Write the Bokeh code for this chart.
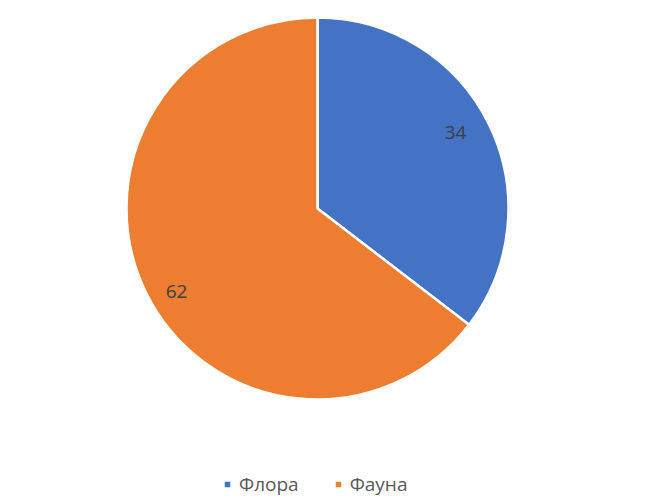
import math
from bokeh.plotting import figure
from bokeh.models import ColumnDataSource, Legend, LegendItem
from bokeh.core.properties import value
from bokeh.embed import file_html
from bokeh.resources import INLINE

categories = ["Флора", "Фауна"]
values = [34, 62]
colors = ["#4472C4", "#ED7D31"]

W, H = 652, 498
cx, cy, r = 317, 290, 191

total = sum(values)
starts, ends = [], []
a = math.pi / 2
for v in values:
    sweep = 2 * math.pi * v / total
    starts.append(a - sweep)
    ends.append(a)
    a -= sweep

src = ColumnDataSource(dict(cat=categories, val=values, color=colors,
                            start=starts, end=ends,
                            lx=[455, 176], ly=[366, 207],
                            lab=[str(v) for v in values]))

p = figure(width=W, height=H, x_range=(0, W), y_range=(0, H),
           output_backend="svg", toolbar_location=None, min_border=0,
           background_fill_color="white", border_fill_color="white")
p.axis.visible = False
p.grid.visible = False
p.outline_line_color = None

wr = p.wedge(x=cx, y=cy, radius=r, start_angle="start", end_angle="end",
             fill_color="color", line_color="white", line_width=2.5, source=src)
p.text(x="lx", y="ly", text="lab", source=src, text_align="center",
       text_baseline="middle", text_font=value("Open Sans"),
       text_font_size="19px", text_color="#404040")

legend = Legend(items=[LegendItem(label=categories[i], renderers=[wr], index=i)
                       for i in range(len(categories))],
                orientation="horizontal", location=(222, 1),
                label_text_font="Open Sans", label_text_font_size="19px",
                label_text_color="#595959", glyph_width=10, glyph_height=10,
                spacing=34, padding=0, margin=0, border_line_color=None,
                background_fill_alpha=0, label_standoff=7)
p.add_layout(legend, "center")

open("out.html", "w").write(file_html(p, INLINE))
